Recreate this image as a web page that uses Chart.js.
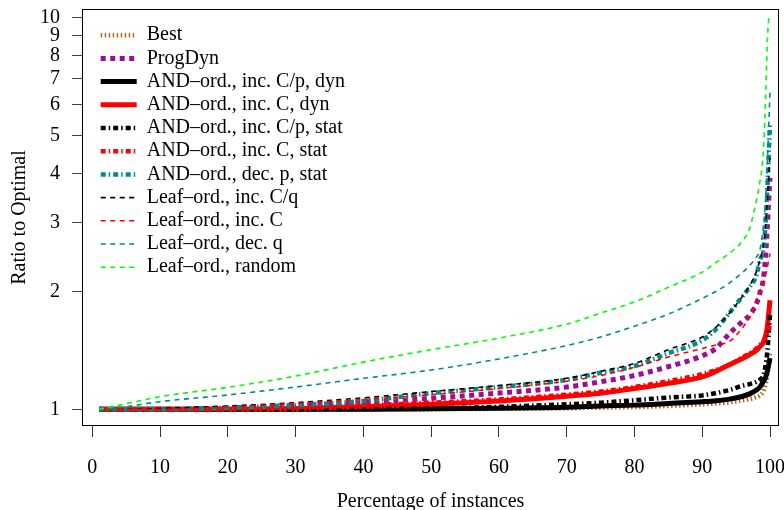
<!DOCTYPE html>
<html>
<head>
<meta charset="utf-8">
<script src="https://cdn.jsdelivr.net/npm/chart.js@4.4.1/dist/chart.umd.min.js"></script>
<style>
  html, body { margin: 0; padding: 0; background: #fff; }
  canvas { display: block; }
</style>
</head>
<body>
<canvas id="chart" width="784" height="510"></canvas>
<script>
// Data (ratio to optimal, sorted, per percentage of instances)
const pct = [1, 4, 10, 20, 30, 40, 50, 60, 70, 75, 80, 85, 90, 92, 94, 96, 97, 98, 98.5, 99, 99.3, 99.6, 99.8, 100];

const best        = [1, 1, 1, 1, 1, 1, 1.001, 1.003, 1.006, 1.01, 1.013, 1.02, 1.03, 1.035, 1.042, 1.055, 1.062, 1.075, 1.085, 1.11, 1.15, 1.22, 1.3, 1.39];
const progDyn     = [1, 1, 1, 1.005, 1.02, 1.04, 1.067, 1.1, 1.14, 1.176, 1.22, 1.285, 1.37, 1.43, 1.56, 1.68, 1.74, 1.86, 1.98, 2.14, 2.4, 2.9, 3.4, 3.9];
const andCpDyn    = [1, 1, 1, 1, 1, 1, 1.003, 1.007, 1.012, 1.02, 1.025, 1.035, 1.046, 1.052, 1.062, 1.08, 1.095, 1.12, 1.14, 1.176, 1.2, 1.25, 1.3, 1.35];
const andCDyn     = [1, 1, 1, 1, 1.005, 1.015, 1.03, 1.05, 1.08, 1.099, 1.13, 1.165, 1.21, 1.25, 1.3, 1.35, 1.38, 1.415, 1.445, 1.48, 1.53, 1.62, 1.75, 1.9];
const andCpStat   = [1, 1, 1, 1, 1, 1.002, 1.005, 1.015, 1.03, 1.04, 1.055, 1.072, 1.085, 1.1, 1.12, 1.15, 1.16, 1.175, 1.19, 1.22, 1.28, 1.4, 1.55, 1.74];
const andCStat    = [1, 1, 1, 1.005, 1.012, 1.025, 1.04, 1.06, 1.09, 1.11, 1.14, 1.18, 1.23, 1.26, 1.3, 1.36, 1.39, 1.43, 1.46, 1.49, 1.52, 1.56, 1.6, 1.65];
const andPStat    = [1, 1, 1, 1.01, 1.025, 1.05, 1.1, 1.14, 1.19, 1.24, 1.29, 1.39, 1.5, 1.6, 1.76, 1.95, 2.05, 2.2, 2.4, 2.55, 2.9, 3.6, 4.4, 5.4];
const leafCq      = [1, 1, 1.005, 1.02, 1.04, 1.07, 1.11, 1.15, 1.2, 1.25, 1.31, 1.42, 1.53, 1.62, 1.76, 1.95, 2.07, 2.25, 2.4, 2.6, 2.9, 3.4, 3.9, 4.5];
const leafC       = [1, 1, 1, 1.015, 1.035, 1.06, 1.09, 1.13, 1.18, 1.22, 1.28, 1.36, 1.43, 1.46, 1.49, 1.62, 1.72, 1.9, 2.0, 2.1, 2.2, 2.3, 2.4, 2.5];
const leafQ       = [1, 1.01, 1.046, 1.088, 1.14, 1.2, 1.26, 1.345, 1.455, 1.53, 1.63, 1.75, 1.92, 2.0, 2.1, 2.24, 2.33, 2.45, 2.55, 2.9, 3.3, 4.2, 5.2, 6.5];
const leafRandom  = [1, 1.025, 1.077, 1.138, 1.216, 1.32, 1.42, 1.52, 1.65, 1.76, 1.88, 2.05, 2.24, 2.37, 2.5, 2.7, 2.9, 3.42, 3.8, 4.5, 5.9, 8.6, 9.9, 10.1];

const xTicks = [0, 10, 20, 30, 40, 50, 60, 70, 80, 90, 100];
const yTicks = [1, 2, 3, 4, 5, 6, 7, 8, 9, 10];

// Series styles
const SERIES = [
    { label: 'Best',                       values: best,       color: '#B5651D', width: 4.5, dash: [1.5, 2.5] },
    { label: 'ProgDyn',                    values: progDyn,    color: '#9A0F9A', width: 5,   dash: [5, 4.5] },
    { label: 'AND\u2013ord., inc. C/p, dyn',  values: andCpDyn,   color: '#000000', width: 5,   dash: [] },
    { label: 'AND\u2013ord., inc. C, dyn',    values: andCDyn,    color: '#FF0000', width: 5,   dash: [] },
    { label: 'AND\u2013ord., inc. C/p, stat', values: andCpStat,  color: '#000000', width: 4.5, dash: [5, 3, 1.5, 3] },
    { label: 'AND\u2013ord., inc. C, stat',   values: andCStat,   color: '#FF0000', width: 4.5, dash: [5, 3, 1.5, 3] },
    { label: 'AND\u2013ord., dec. p, stat',   values: andPStat,   color: '#008B8B', width: 4.5, dash: [5, 3, 1.5, 3] },
    { label: 'Leaf\u2013ord., inc. C/q',      values: leafCq,     color: '#000000', width: 1.6, dash: [5, 4.5] },
    { label: 'Leaf\u2013ord., inc. C',        values: leafC,      color: '#FF0000', width: 1.6, dash: [5, 4.5] },
    { label: 'Leaf\u2013ord., dec. q',        values: leafQ,      color: '#008B8B', width: 1.6, dash: [5, 4.5] },
    { label: 'Leaf\u2013ord., random',        values: leafRandom, color: '#00FF00', width: 1.6, dash: [5, 4.5] }
];

Chart.defaults.font.family = '"Liberation Serif", "DejaVu Serif", serif';
Chart.defaults.color = '#000';

// box around the plot region
const plotBox = {
    id: 'plotBox',
    afterDraw(chart) {
        const a = chart.chartArea;
        const ctx = chart.ctx;
        ctx.save();
        ctx.strokeStyle = '#000';
        ctx.lineWidth = 1;
        ctx.strokeRect(Math.round(a.left) - 0.5, Math.round(a.top) + 0.5,
            Math.round(a.right - a.left) + 1, Math.round(a.bottom - a.top) - 1);
        ctx.restore();
    }
};

// legend sits inside the plot, away from the corner
const legendInset = {
    id: 'legendInset',
    afterLayout(chart) {
        chart.legend.left += 14.5;
        chart.legend.top += 22;
    }
};

const datasets = SERIES.map((s, i) => ({
    label: s.label,
    data: pct.map((x, j) => ({ x: x, y: s.values[j] })),
    borderColor: s.color,
    backgroundColor: s.color,
    borderWidth: s.width,
    borderDash: s.dash,
    borderCapStyle: 'butt',
    pointRadius: 0,
    cubicInterpolationMode: 'monotone',
    fill: false,
    order: -i
}));

new Chart(document.getElementById('chart'), {
    type: 'line',
    data: { datasets: datasets },
    plugins: [plotBox, legendInset],
    options: {
        responsive: false,
        animation: false,
        devicePixelRatio: 1,
        layout: { padding: { top: 9, right: 6, left: 0, bottom: 0 } },
        plugins: {
            tooltip: { enabled: false },
            legend: {
                position: 'chartArea',
                align: 'start',
                labels: {
                    usePointStyle: true,
                    pointStyleWidth: 36,
                    padding: 3.2,
                    font: { size: 20 },
                    color: '#000',
                    generateLabels: chart => chart.data.datasets.map((ds, i) => ({
                        text: ds.label,
                        fillStyle: ds.borderColor,
                        strokeStyle: ds.borderColor,
                        lineWidth: ds.borderWidth,
                        lineDash: ds.borderDash,
                        lineCap: 'butt',
                        pointStyle: 'line',
                        hidden: false,
                        datasetIndex: i
                    }))
                }
            }
        },
        scales: {
            x: {
                type: 'linear',
                min: -1.372,
                max: 101.18,
                border: { display: false },
                grid: { drawOnChartArea: false, drawTicks: true, tickLength: 11, tickColor: '#333' },
                ticks: {
                    autoSkip: false,
                    maxRotation: 0,
                    padding: 18.6,
                    font: { size: 20 },
                    color: '#000',
                    callback: v => String(v)
                },
                afterBuildTicks: scale => { scale.ticks = xTicks.map(v => ({ value: v })); },
                afterFit: scale => { scale.height = 84; scale.paddingLeft = 0; scale.paddingRight = 0; },
                title: {
                    display: true,
                    text: 'Percentage of instances',
                    font: { size: 20, lineHeight: 0.825 },
                    padding: 0,
                    color: '#000'
                }
            },
            y: {
                type: 'logarithmic',
                min: 0.9066,
                max: 10.525,
                border: { display: false },
                grid: { drawOnChartArea: false, drawTicks: true, tickLength: 11, tickColor: '#444' },
                ticks: {
                    autoSkip: false,
                    padding: 12,
                    font: { size: 20 },
                    color: '#000',
                    callback: v => String(v)
                },
                afterBuildTicks: scale => { scale.ticks = yTicks.map(v => ({ value: v })); },
                afterFit: scale => { scale.width = 83; scale.paddingTop = 0; scale.paddingBottom = 0; },
                title: {
                    display: true,
                    text: 'Ratio to Optimal',
                    font: { size: 20, lineHeight: 0.825 },
                    padding: { top: 11, bottom: 0 },
                    color: '#000'
                }
            }
        }
    }
});
</script>
</body>
</html>
